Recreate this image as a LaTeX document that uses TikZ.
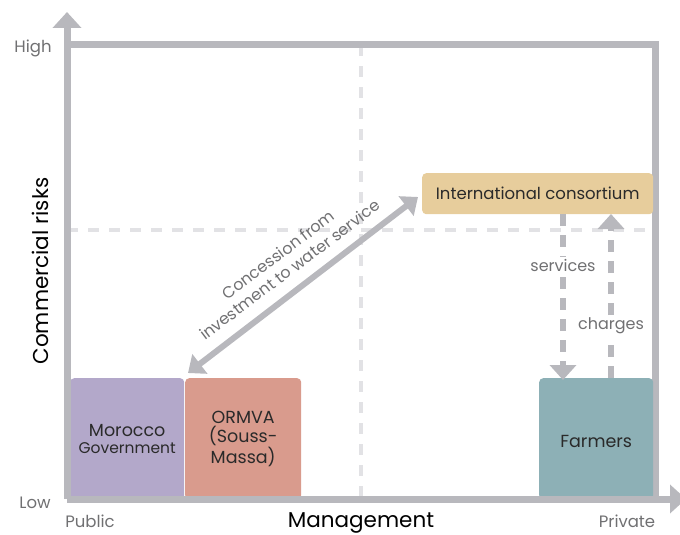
\documentclass[tikz,border=0pt]{standalone}
\usepackage{fontspec}
\setmainfont{Poppins}
\usetikzlibrary{arrows.meta}
\definecolor{axisgray}{HTML}{B8B8BD}
\definecolor{dashgray}{HTML}{E2E2E5}
\definecolor{labgray}{HTML}{707072}
\definecolor{boxtext}{HTML}{2A2A2A}
\definecolor{morocco}{HTML}{B3A8CA}
\definecolor{ormva}{HTML}{D99B8D}
\definecolor{consort}{HTML}{E7CD9C}
\definecolor{farmers}{HTML}{8DB0B6}
\tikzset{
  axisline/.style={draw=axisgray, line width=7pt},
  gridline/.style={draw=dashgray, line width=3.5pt, dash pattern=on 11pt off 10pt},
  flowline/.style={draw=axisgray, line width=6pt, dash pattern=on 12pt off 9pt, -{Triangle[width=26pt,length=15pt]}},
  actor/.style={rounded corners=4pt, inner sep=0pt, text=boxtext, align=center, font=\fontsize{17.5}{19}\selectfont},
  ticklab/.style={text=labgray, font=\fontsize{16.5}{18}\selectfont},
  axislab/.style={text=black, font=\fontsize{21.5}{23}\selectfont},
  flowlab/.style={text=labgray, font=\fontsize{16}{18}\selectfont, fill=white, inner sep=2pt}
}
\begin{document}
\begin{tikzpicture}[x=1pt,y=-1pt]
\useasboundingbox (0,0) rectangle (680,535);
% grid
\coordinate (vtop) at (361,45);
\coordinate (vbot) at (361,499);
\coordinate (hleft) at (67,230);
\coordinate (hright) at (655,230);
\draw[gridline] (vtop) -- (vbot);
\draw[gridline] (hleft) -- (hright);
% frame
\coordinate (o) at (67,499);
\coordinate (ytip) at (67,12);
\coordinate (xtip) at (686,499);
\coordinate (tl) at (67,45);
\coordinate (tr) at (655,45);
\coordinate (br) at (655,499);
\draw[axisline] (tl) -- (tr) -- (br);
% boxes
\node[actor, fill=morocco, minimum width=114pt, minimum height=121pt, anchor=north west] (mor) at (70,378) {\rule{0pt}{8pt}Morocco\\[-2pt]{\fontsize{15.5}{17}\selectfont Government}};
\node[actor, fill=ormva, minimum width=116pt, minimum height=121pt, anchor=north west] (orm) at (185,378) {\rule{0pt}{6pt}ORMVA\\(Souss-\\Massa)};
\node[actor, fill=farmers, minimum width=114pt, minimum height=121pt, anchor=north west] (far) at (539,378) {\rule{0pt}{18pt}Farmers};
\node[actor, fill=consort, minimum width=231pt, minimum height=41pt, anchor=north west, font=\fontsize{16.5}{18}\selectfont] (con) at (422,173) {International consortium};
% axes
\draw[axisline, -{Triangle[width=28pt,length=16pt]}] (o) -- (ytip);
\draw[axisline, -{Triangle[width=28pt,length=16pt]}] (o) -- (xtip);
% flows
\coordinate (sA) at (563,214);
\coordinate (sB) at (563,380);
\coordinate (cA) at (611,378);
\coordinate (cB) at (611,214);
\draw[flowline] (sA) -- (sB);
\draw[flowline] (cA) -- (cB);
\node[flowlab] (svc) at (563,265) {services};
\node[flowlab] (chg) at (611,326) {charges};
% concession
\coordinate (dA) at (188,373);
\coordinate (dB) at (418,197);
\draw[draw=axisgray, line width=6pt, {Triangle[width=24pt,length=15pt]}-{Triangle[width=24pt,length=15pt]}] (dA) -- (dB);
\node[text=labgray, font=\fontsize{16}{19}\selectfont, align=center, rotate=37, inner sep=0pt] (conc) at (284,262) {Concession from\\investment to water service};
% labels
\node[ticklab] (high) at (33,48) {High};
\node[ticklab] (low) at (35,503) {Low};
\node[ticklab] (pub) at (90,521) {Public};
\node[ticklab] (pri) at (627,521) {Private};
\node[axislab] (mgmt) at (361,523) {Management};
\node[axislab, rotate=90] (cr) at (40,271) {Commercial risks};
\end{tikzpicture}
\end{document}
